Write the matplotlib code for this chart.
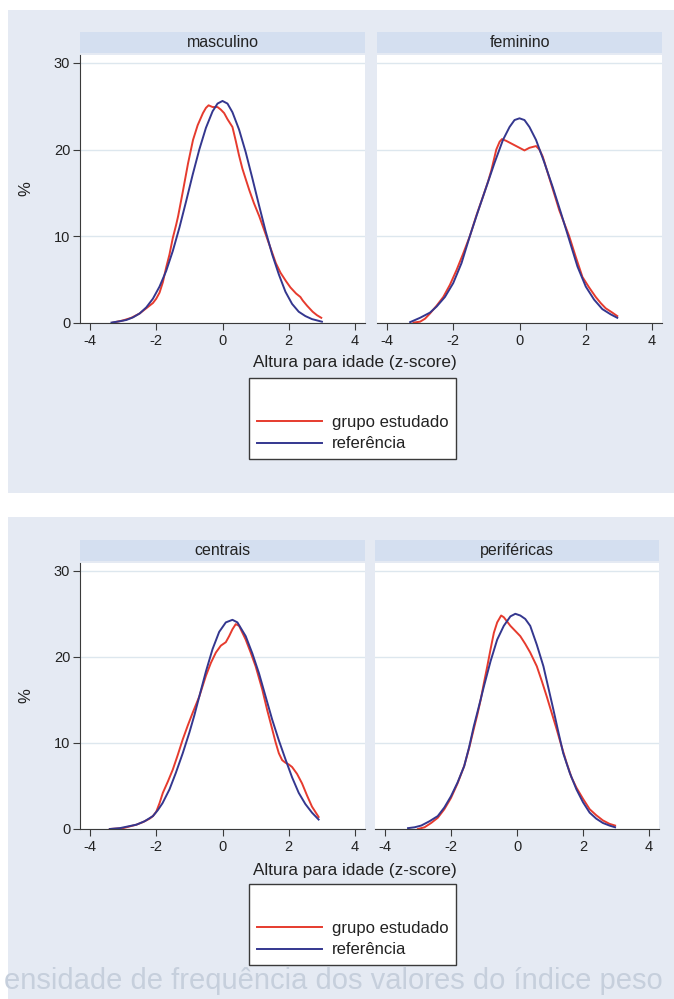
import matplotlib
matplotlib.use("Agg")
import matplotlib.pyplot as plt
from matplotlib.patches import Rectangle

plt.rcParams['font.family'] = ['Liberation Sans', 'DejaVu Sans']
plt.rcParams['axes.unicode_minus'] = False

W, H = 674, 999
BG = '#e5eaf3'
STRIP = '#d4dff0'
RED = '#e63b2e'
BLUE = '#34378f'
GRID = '#dde7ee'
AXC = '#3a3a3a'

# --- dados (z-score, %) ---
masc_est_z = [-3.3, -3.0, -2.75, -2.5, -2.3, -2.1, -2.0, -1.9, -1.8, -1.7, -1.6, -1.5, -1.4, -1.34,
              -1.19, -1.04, -0.89, -0.75, -0.59, -0.5, -0.42, -0.3, -0.15, -0.05, 0.05, 0.15, 0.3,
              0.4, 0.5, 0.6, 0.7, 0.81, 0.95, 1.11, 1.25, 1.36, 1.5, 1.61, 1.75, 1.92, 2.05, 2.22,
              2.35, 2.42, 2.55, 2.72, 2.85, 2.98]
masc_est_v = [0.05, 0.3, 0.6, 1.1, 1.7, 2.3, 2.8, 3.5, 4.7, 6.4, 7.9, 9.8, 11.3, 12.3,
              15.3, 18.4, 21.1, 22.8, 24.2, 24.8, 25.1, 24.9, 24.9, 24.6, 24.2, 23.5, 22.6,
              21.0, 19.3, 17.8, 16.6, 15.3, 13.8, 12.3, 10.8, 9.6, 8.1, 6.9, 5.8, 4.8, 4.1, 3.4,
              3.0, 2.6, 2.0, 1.3, 0.9, 0.6]
masc_ref_z = [-3.35, -3.1, -2.9, -2.7, -2.5, -2.3, -2.1, -1.9, -1.7, -1.5, -1.3, -1.1, -0.9, -0.7,
              -0.5, -0.3, -0.15, 0.0, 0.15, 0.3, 0.5, 0.7, 0.9, 1.1, 1.3, 1.5, 1.7, 1.9, 2.1, 2.3,
              2.5, 2.7, 2.9, 3.0]
masc_ref_v = [0.05, 0.2, 0.35, 0.65, 1.1, 1.8, 2.8, 4.2, 6.0, 8.3, 11.0, 14.0, 17.1, 20.0,
              22.5, 24.4, 25.3, 25.6, 25.3, 24.3, 22.3, 19.7, 16.7, 13.6, 10.6, 7.9, 5.6, 3.6, 2.2, 1.3,
              0.8, 0.45, 0.25, 0.15]

fem_est_z = [-3.2, -3.0, -2.85, -2.7, -2.5, -2.3, -2.1, -1.9, -1.7, -1.5, -1.3, -1.1, -0.95, -0.85,
             -0.7, -0.6, -0.53, -0.4, -0.2, 0.0, 0.15, 0.3, 0.5, 0.6, 0.7, 0.82, 0.95, 1.08, 1.2,
             1.35, 1.5, 1.7, 1.9, 2.1, 2.3, 2.45, 2.6, 2.8, 2.95]
fem_est_v = [0.05, 0.15, 0.5, 1.1, 2.0, 3.0, 4.4, 6.1, 8.0, 10.0, 12.4, 14.6, 16.3, 17.6,
             20.0, 20.9, 21.2, 21.0, 20.6, 20.2, 19.9, 20.2, 20.4, 20.0, 19.2, 17.7, 16.1, 14.5, 13.0,
             11.5, 10.0, 7.6, 5.3, 4.1, 3.0, 2.3, 1.7, 1.2, 0.8]
fem_ref_z = [-3.3, -3.0, -2.7, -2.5, -2.25, -2.0, -1.75, -1.5, -1.25, -1.0, -0.75, -0.5, -0.3, -0.15,
             0.0, 0.15, 0.3, 0.5, 0.75, 1.0, 1.25, 1.5, 1.75, 2.0, 2.25, 2.5, 2.75, 2.95]
fem_ref_v = [0.1, 0.6, 1.2, 1.9, 3.0, 4.6, 6.9, 10.0, 12.9, 15.7, 18.5, 21.1, 22.6, 23.4,
             23.6, 23.4, 22.6, 21.1, 18.5, 15.7, 12.7, 9.6, 6.5, 4.2, 2.7, 1.6, 1.0, 0.6]

cen_est_z = [-3.4, -3.0, -2.8, -2.6, -2.4, -2.2, -2.1, -2.0, -1.9, -1.8, -1.65, -1.5, -1.35, -1.2,
             -1.05, -0.9, -0.7, -0.5, -0.35, -0.2, -0.05, 0.1, 0.2, 0.3, 0.4, 0.5, 0.7, 0.85, 1.0,
             1.2, 1.35, 1.5, 1.6, 1.7, 1.8, 1.9, 2.0, 2.1, 2.25, 2.4, 2.55, 2.7, 2.8, 2.9]
cen_est_v = [0.0, 0.1, 0.3, 0.5, 0.8, 1.2, 1.5, 2.0, 3.0, 4.2, 5.5, 6.9, 8.6, 10.4,
             12.0, 13.5, 15.4, 17.8, 19.3, 20.5, 21.3, 21.7, 22.4, 23.2, 23.8, 23.6, 22.0, 20.5, 18.9,
             16.2, 13.8, 11.6, 10.1, 8.8, 8.0, 7.7, 7.5, 7.2, 6.4, 5.3, 3.9, 2.6, 2.0, 1.4]
cen_ref_z = [-3.4, -3.1, -2.85, -2.6, -2.35, -2.1, -1.95, -1.81, -1.6, -1.41, -1.2, -1.0, -0.85, -0.7,
             -0.5, -0.3, -0.1, 0.1, 0.3, 0.45, 0.7, 0.9, 1.1, 1.3, 1.5, 1.7, 1.9, 2.1, 2.3, 2.5,
             2.7, 2.9]
cen_ref_v = [0.0, 0.1, 0.3, 0.5, 0.9, 1.5, 2.2, 3.0, 4.6, 6.5, 8.8, 11.2, 13.2, 15.4,
             18.3, 20.9, 22.9, 24.0, 24.3, 24.0, 22.4, 20.4, 18.1, 15.4, 12.7, 10.3, 8.1, 6.0, 4.2, 2.9,
             1.9, 1.1]

per_est_z = [-3.0, -2.8, -2.6, -2.4, -2.2, -2.0, -1.8, -1.6, -1.45, -1.31, -1.2, -1.1, -1.0, -0.9,
             -0.8, -0.7, -0.6, -0.48, -0.4, -0.3, -0.2, -0.1, 0.1, 0.25, 0.4, 0.6, 0.75, 0.9, 1.05,
             1.2, 1.35, 1.5, 1.65, 1.8, 2.0, 2.2, 2.4, 2.6, 2.8, 2.97]
per_est_v = [0.0, 0.2, 0.7, 1.3, 2.3, 3.6, 5.3, 7.3, 9.4, 11.6, 13.3, 15.0, 17.0, 18.9,
             20.9, 22.8, 24.0, 24.8, 24.6, 24.1, 23.6, 23.2, 22.4, 21.5, 20.5, 18.9, 17.2, 15.4, 13.5,
             11.6, 9.6, 7.7, 6.0, 4.8, 3.5, 2.3, 1.6, 1.0, 0.6, 0.4]
per_ref_z = [-3.3, -3.1, -2.9, -2.65, -2.4, -2.2, -2.0, -1.8, -1.6, -1.45, -1.31, -1.15, -1.0, -0.8,
             -0.6, -0.4, -0.2, -0.05, 0.1, 0.25, 0.4, 0.6, 0.8, 0.95, 1.1, 1.25, 1.4, 1.6, 1.8, 2.0,
             2.2, 2.4, 2.6, 2.8, 2.97]
per_ref_v = [0.1, 0.2, 0.4, 0.9, 1.5, 2.5, 3.8, 5.4, 7.3, 9.5, 11.9, 14.3, 16.6, 19.5,
             22.0, 23.6, 24.7, 25.0, 24.8, 24.4, 23.6, 21.4, 18.9, 16.4, 13.9, 11.3, 8.8, 6.5, 4.6, 3.1,
             1.9, 1.2, 0.7, 0.4, 0.2]

x_ticks = [-4, -2, 0, 2, 4]
y_ticks = [0, 10, 20, 30]
leg_labels = ['grupo estudado', 'referência']
x_title = 'Altura para idade (z-score)'


def fx(px):
    return px / W


def fy(py):
    return 1 - py / H


def panel(fig, left, right, top, bottom, title, ze, ve, zr, vr, first):
    # faixa com o titulo
    st = fig.add_axes([fx(left), fy(top - 2), (right - left) / W, 21 / H])
    st.set_facecolor(STRIP)
    st.set_xticks([])
    st.set_yticks([])
    for s in st.spines.values():
        s.set_visible(False)
    st.text(0.5, 0.5, title, ha='center', va='center', fontsize=11.5, color='#222')

    ax = fig.add_axes([fx(left), fy(bottom), (right - left) / W, (bottom - top) / H])
    ax.set_facecolor('white')
    l1, = ax.plot(ze, ve, color=RED, lw=1.4)
    l2, = ax.plot(zr, vr, color=BLUE, lw=1.4)
    ax.set_xlim(-4.3, 4.3)
    ax.set_ylim(0, 30.9)
    ax.set_xticks(x_ticks)
    ax.set_yticks(y_ticks)
    ax.yaxis.grid(True, color=GRID, lw=1.0)
    ax.set_axisbelow(True)
    ax.spines['top'].set_visible(False)
    ax.spines['right'].set_visible(False)
    ax.spines['bottom'].set_color(AXC)
    ax.spines['left'].set_color(AXC)
    ax.tick_params(colors=AXC, labelcolor='#222', labelsize=10.5, length=5, width=0.8)
    ax.tick_params(axis='x', pad=3)
    ax.tick_params(axis='y', pad=2)
    if first:
        ax.set_ylabel('%', fontsize=12, color='#222')
        ax.yaxis.set_label_coords(-0.165, 0.5)
    else:
        ax.spines['left'].set_visible(False)
        ax.tick_params(axis='y', left=False, labelleft=False)
    return l1, l2


def block(fig, y0, y1, top, bottom, titles, data, p2, xlab_y, leg_top):
    fig.patches.append(Rectangle((fx(8), fy(y1)), 1 - fx(8), (y1 - y0) / H,
                                 transform=fig.transFigure, facecolor=BG, edgecolor='none', zorder=-10))
    h = panel(fig, 80, 365, top, bottom, titles[0], *data[0], True)
    panel(fig, p2[0], p2[1], top, bottom, titles[1], *data[1], False)
    fig.text(fx(355), fy(xlab_y), x_title, ha='center', va='center', fontsize=12.3, color='#222')
    leg = fig.legend(h, leg_labels, loc='upper left', bbox_to_anchor=(fx(249), fy(leg_top)),
                     borderaxespad=0, frameon=True, fancybox=False, edgecolor=AXC, framealpha=1,
                     fontsize=12, handlelength=3.9, handletextpad=0.6, borderpad=0.45,
                     title=' ', title_fontsize=17, labelspacing=0.42)
    leg.get_frame().set_linewidth(1.0)
    leg.set_zorder(5)
    for t in leg.get_texts():
        t.set_color('#222')


fig = plt.figure(figsize=(W / 100, H / 100), dpi=100)
fig.patch.set_facecolor('white')

# texto do verso da pagina que aparece na digitalizacao
fig.text(fx(4), fy(981), 'ensidade de frequência dos valores do índice peso', ha='left', va='center',
         fontsize=21, color='#c6cfdc', zorder=-5)

block(fig, 10, 493, 55, 323, ['masculino', 'feminino'],
      [(masc_est_z, masc_est_v, masc_ref_z, masc_ref_v),
       (fem_est_z, fem_est_v, fem_ref_z, fem_ref_v)],
      (377, 662), 363, 378)

block(fig, 517, 999, 563, 829, ['centrais', 'periféricas'],
      [(cen_est_z, cen_est_v, cen_ref_z, cen_ref_v),
       (per_est_z, per_est_v, per_ref_z, per_ref_v)],
      (375, 659), 870, 884)

fig.savefig('out.png', dpi=100, facecolor=fig.get_facecolor())
